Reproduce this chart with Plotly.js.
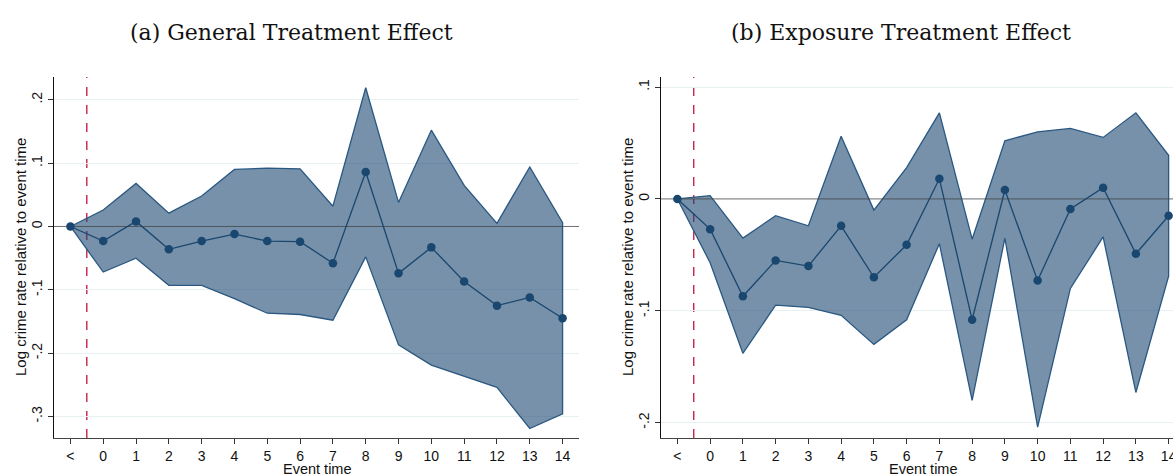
<!DOCTYPE html>
<html>
<head>
<meta charset="utf-8">
<script src="https://cdn.plot.ly/plotly-3.0.1.min.js"></script>
<style>
  html, body { margin: 0; padding: 0; background: #fff; overflow: hidden; }
  #chart { width: 1190px; height: 476px; }
</style>
</head>
<body>
<div id="chart"></div>
<script>
// Event-time axis: "<" is the omitted reference period, then 0..14
const eventTime = [-1, 0, 1, 2, 3, 4, 5, 6, 7, 8, 9, 10, 11, 12, 13, 14];
const tickLabels = ["<", "0", "1", "2", "3", "4", "5", "6", "7", "8", "9", "10", "11", "12", "13", "14"];

// (a) General treatment effect: point estimates and 95% bounds
const generalCoef  = [0, -0.023, 0.008, -0.036, -0.023, -0.012, -0.023, -0.024, -0.058, 0.086, -0.074, -0.033, -0.087, -0.125, -0.112, -0.145];
const generalUpper = [0, 0.026, 0.068, 0.021, 0.048, 0.090, 0.092, 0.091, 0.032, 0.219, 0.038, 0.152, 0.065, 0.005, 0.094, 0.006];
const generalLower = [0, -0.072, -0.050, -0.093, -0.093, -0.114, -0.137, -0.139, -0.148, -0.048, -0.187, -0.219, -0.237, -0.254, -0.319, -0.296];

// (b) Exposure treatment effect: point estimates and 95% bounds
const exposureCoef  = [0, -0.027, -0.087, -0.055, -0.060, -0.024, -0.070, -0.041, 0.018, -0.108, 0.008, -0.073, -0.009, 0.010, -0.049, -0.015];
const exposureUpper = [0, 0.003, -0.035, -0.015, -0.024, 0.056, -0.010, 0.028, 0.077, -0.036, 0.052, 0.060, 0.063, 0.055, 0.077, 0.039];
const exposureLower = [0, -0.057, -0.138, -0.095, -0.097, -0.104, -0.130, -0.108, -0.040, -0.180, -0.035, -0.204, -0.080, -0.034, -0.173, -0.069];

// Panel titles and axis labels
const panelTitles = ["(a) General Treatment Effect", "(b) Exposure Treatment Effect"];
const yTitle = "Log crime rate relative to event time";
const xTitle = "Event time";
const generalYTicks = [0.2, 0.1, 0, -0.1, -0.2, -0.3];
const generalYText  = [".2", ".1", "0", "-.1", "-.2", "-.3"];
const exposureYTicks = [0.1, 0, -0.1, -0.2];
const exposureYText  = [".1", "0", "-.1", "-.2"];

const W = 1190, H = 476;
const navy = "#1a476f";
const band = "rgba(26,71,111,0.6)";
const xRange = [-1.5, 14.5];
const sans = "Liberation Sans, Arial, sans-serif";

function panelTraces(coef, upper, lower, xa, ya) {
  const polyX = eventTime.concat(eventTime.slice().reverse());
  const polyY = upper.concat(lower.slice().reverse());
  return [
    { x: polyX, y: polyY, xaxis: xa, yaxis: ya, type: "scatter", mode: "lines",
      fill: "toself", fillcolor: band, line: { color: "#2a5882", width: 1.3 },
      hoverinfo: "skip", showlegend: false },
    { x: xRange, y: [0, 0], xaxis: xa, yaxis: ya, type: "scatter", mode: "lines",
      line: { color: "rgba(70,70,70,0.75)", width: 1 }, hoverinfo: "skip", showlegend: false },
    { x: eventTime, y: coef, xaxis: xa, yaxis: ya, type: "scatter", mode: "lines+markers",
      line: { color: navy, width: 1.3 }, marker: { color: navy, size: 8.5 },
      showlegend: false }
  ];
}

const traces = []
  .concat(panelTraces(generalCoef, generalUpper, generalLower, "x", "y"))
  .concat(panelTraces(exposureCoef, exposureUpper, exposureLower, "x2", "y2"));

function xAxis(domain, anchor) {
  return {
    domain: domain, anchor: anchor, range: xRange, tickmode: "array",
    tickvals: eventTime, ticktext: tickLabels, ticks: "outside", ticklen: 5,
    tickcolor: "#333", tickwidth: 1, showgrid: false, zeroline: false,
    showline: true, linecolor: "#444", linewidth: 1.2,
    tickfont: { family: sans, size: 14, color: "#111" }, fixedrange: true
  };
}
function yAxis(domain, anchor, range, vals, text) {
  return {
    domain: domain, anchor: anchor, range: range, tickmode: "array",
    tickvals: vals, ticktext: text, tickangle: -90, ticks: "outside", ticklen: 5,
    tickcolor: "#333", tickwidth: 1, showgrid: true, gridcolor: "#e8f0f2", gridwidth: 1,
    zeroline: false, showline: true, linecolor: "#111", linewidth: 1.2,
    tickfont: { family: sans, size: 14, color: "#111" }, fixedrange: true
  };
}

const yDom = [1 - 438 / H, 1 - 77 / H];

function label(text, px, py, font, angle) {
  return { text: text, xref: "paper", yref: "paper", x: px / W, y: 1 - py / H,
    xanchor: "center", yanchor: "middle", textangle: angle || 0,
    showarrow: false, font: font };
}
const titleFont = { family: "DejaVu Serif, serif", size: 22, color: "#111" };
const yTitleFont = { family: sans, size: 15, color: "#111" };
const xTitleFont = { family: sans, size: 14.5, color: "#111" };

const layout = {
  width: W, height: H,
  margin: { l: 0, r: 0, t: 0, b: 0 },
  paper_bgcolor: "#fff", plot_bgcolor: "#fff",
  xaxis: xAxis([54 / W, 579 / W], "y"),
  yaxis: yAxis(yDom, "x", [-0.334, 0.236], generalYTicks, generalYText),
  xaxis2: xAxis([661 / W, 1185 / W], "y2"),
  yaxis2: yAxis(yDom, "x2", [-0.2137, 0.109], exposureYTicks, exposureYText),
  shapes: [
    { type: "line", xref: "x", yref: "y domain", x0: -0.5, x1: -0.5, y0: 0, y1: 1,
      line: { color: "#c0143c", width: 1.3, dash: "dash" }, layer: "below" },
    { type: "line", xref: "x2", yref: "y2 domain", x0: -0.5, x1: -0.5, y0: 0, y1: 1,
      line: { color: "#c0143c", width: 1.3, dash: "dash" }, layer: "below" }
  ],
  annotations: [
    label(panelTitles[0], 291.5, 33, titleFont),
    label(panelTitles[1], 900.5, 33, titleFont),
    label(yTitle, 20, 257, yTitleFont, -90),
    label(yTitle, 627, 257, yTitleFont, -90),
    label(xTitle, 317, 469, xTitleFont),
    label(xTitle, 923, 469, xTitleFont)
  ]
};

Plotly.newPlot("chart", traces, layout, { displayModeBar: false, staticPlot: true });
</script>
</body>
</html>
